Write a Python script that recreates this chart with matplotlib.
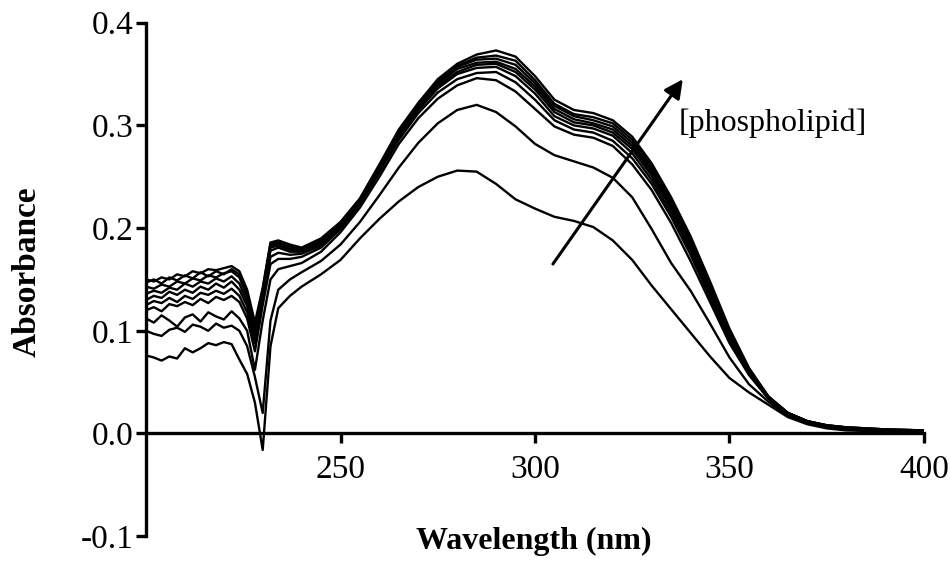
"""Absorbance spectra of the titration series (phospholipid added)."""

import matplotlib

matplotlib.use("Agg")
import matplotlib.pyplot as plt

plt.rcParams["font.family"] = ["Liberation Serif", "DejaVu Serif"]
plt.rcParams["axes.unicode_minus"] = False

# wavelength grid (nm) shared by every spectrum
WAVELENGTH = [200, 202, 204, 206, 208, 210, 212, 214, 216, 218, 220, 222, 224,
              226, 228, 230, 232, 234, 237, 240,
              245, 250, 255, 260, 265, 270, 275, 280, 285, 290, 295, 300, 305,
              310, 315, 320, 325, 330, 335, 340, 345, 350, 355, 360, 365, 370,
              375, 380, 390, 400]

# spectra, lowest to highest phospholipid concentration
ABS_1 = [0.076, 0.074, 0.071, 0.075, 0.073, 0.083, 0.079, 0.083, 0.088, 0.086, 0.089, 0.087, 0.072,
         0.058, 0.030, -0.016, 0.085, 0.122, 0.134, 0.143,
         0.155, 0.169, 0.190, 0.209, 0.226, 0.240, 0.250, 0.256, 0.255, 0.243, 0.228, 0.219, 0.211,
         0.207, 0.201, 0.188, 0.169, 0.144, 0.121, 0.098, 0.075, 0.054, 0.040, 0.028, 0.016, 0.009,
         0.005, 0.003, 0.002, 0.001]
ABS_2 = [0.100, 0.097, 0.095, 0.101, 0.103, 0.099, 0.106, 0.104, 0.100, 0.107, 0.103, 0.105, 0.100,
         0.085, 0.055, 0.020, 0.110, 0.140, 0.150, 0.157,
         0.168, 0.184, 0.206, 0.232, 0.259, 0.283, 0.302, 0.315, 0.320, 0.313, 0.299, 0.282, 0.271,
         0.265, 0.259, 0.249, 0.230, 0.199, 0.166, 0.139, 0.107, 0.074, 0.048, 0.031, 0.017, 0.010,
         0.006, 0.004, 0.002, 0.001]
ABS_3 = [0.112, 0.108, 0.115, 0.110, 0.104, 0.113, 0.116, 0.109, 0.118, 0.114, 0.111, 0.119, 0.112,
         0.100, 0.062, 0.110, 0.150, 0.160, 0.163, 0.166,
         0.177, 0.196, 0.220, 0.250, 0.282, 0.307, 0.326, 0.339, 0.346, 0.344, 0.333, 0.316, 0.299,
         0.291, 0.288, 0.280, 0.262, 0.237, 0.205, 0.168, 0.128, 0.088, 0.057, 0.034, 0.019, 0.011,
         0.007, 0.005, 0.003, 0.002]
ABS_4 = [0.120, 0.123, 0.119, 0.126, 0.124, 0.128, 0.125, 0.131, 0.127, 0.133, 0.130, 0.134, 0.128,
         0.112, 0.080, 0.125, 0.165, 0.170, 0.170, 0.172,
         0.181, 0.199, 0.223, 0.254, 0.286, 0.312, 0.332, 0.345, 0.351, 0.352, 0.342, 0.325, 0.305,
         0.296, 0.293, 0.285, 0.268, 0.243, 0.211, 0.174, 0.132, 0.091, 0.058, 0.034, 0.019, 0.011,
         0.007, 0.005, 0.003, 0.002]
ABS_5 = [0.125, 0.129, 0.127, 0.132, 0.128, 0.134, 0.131, 0.137, 0.135, 0.139, 0.136, 0.141, 0.134,
         0.118, 0.088, 0.130, 0.172, 0.176, 0.174, 0.175,
         0.183, 0.201, 0.225, 0.256, 0.289, 0.315, 0.336, 0.350, 0.356, 0.357, 0.348, 0.331, 0.309,
         0.300, 0.297, 0.290, 0.273, 0.247, 0.215, 0.178, 0.136, 0.094, 0.059, 0.035, 0.019, 0.011,
         0.007, 0.005, 0.003, 0.002]
ABS_6 = [0.130, 0.134, 0.132, 0.138, 0.135, 0.140, 0.137, 0.143, 0.140, 0.146, 0.142, 0.148, 0.140,
         0.124, 0.093, 0.135, 0.178, 0.181, 0.177, 0.177,
         0.185, 0.202, 0.226, 0.258, 0.291, 0.317, 0.338, 0.352, 0.359, 0.360, 0.352, 0.335, 0.313,
         0.303, 0.300, 0.293, 0.277, 0.251, 0.219, 0.181, 0.139, 0.096, 0.060, 0.035, 0.020, 0.012,
         0.007, 0.005, 0.003, 0.002]
ABS_7 = [0.136, 0.139, 0.137, 0.142, 0.140, 0.146, 0.143, 0.148, 0.146, 0.151, 0.148, 0.153, 0.146,
         0.128, 0.097, 0.137, 0.181, 0.183, 0.179, 0.178,
         0.186, 0.203, 0.227, 0.259, 0.293, 0.318, 0.340, 0.355, 0.361, 0.362, 0.355, 0.338, 0.316,
         0.306, 0.302, 0.296, 0.280, 0.254, 0.222, 0.184, 0.141, 0.098, 0.061, 0.035, 0.020, 0.012,
         0.007, 0.005, 0.003, 0.002]
ABS_8 = [0.143, 0.141, 0.145, 0.143, 0.148, 0.146, 0.151, 0.149, 0.154, 0.152, 0.156, 0.158, 0.152,
         0.133, 0.100, 0.138, 0.183, 0.185, 0.180, 0.179,
         0.187, 0.204, 0.228, 0.260, 0.294, 0.320, 0.342, 0.357, 0.364, 0.365, 0.359, 0.341, 0.319,
         0.309, 0.305, 0.299, 0.283, 0.257, 0.225, 0.187, 0.143, 0.099, 0.062, 0.036, 0.020, 0.012,
         0.008, 0.006, 0.004, 0.003]
ABS_9 = [0.147, 0.150, 0.146, 0.152, 0.149, 0.154, 0.151, 0.157, 0.153, 0.158, 0.155, 0.160, 0.155,
         0.137, 0.104, 0.140, 0.185, 0.186, 0.182, 0.180,
         0.188, 0.205, 0.228, 0.261, 0.295, 0.321, 0.343, 0.358, 0.366, 0.368, 0.363, 0.344, 0.321,
         0.311, 0.308, 0.302, 0.286, 0.260, 0.227, 0.189, 0.145, 0.100, 0.063, 0.036, 0.020, 0.012,
         0.008, 0.006, 0.004, 0.003]
ABS_10 = [0.150, 0.148, 0.152, 0.150, 0.155, 0.153, 0.158, 0.156, 0.160, 0.159, 0.161, 0.163, 0.158,
          0.140, 0.108, 0.142, 0.186, 0.188, 0.184, 0.181,
          0.190, 0.206, 0.229, 0.262, 0.296, 0.322, 0.345, 0.360, 0.369, 0.373, 0.367, 0.348, 0.325,
          0.315, 0.312, 0.305, 0.289, 0.263, 0.230, 0.192, 0.148, 0.102, 0.064, 0.036, 0.020, 0.012,
          0.008, 0.006, 0.004, 0.003]

SPECTRA = [ABS_1, ABS_2, ABS_3, ABS_4, ABS_5, ABS_6, ABS_7, ABS_8, ABS_9, ABS_10]

X_TICKS = [250, 300, 350, 400]
Y_TICKS = [-0.1, 0.0, 0.1, 0.2, 0.3, 0.4]
Y_TICK_LABELS = ["-0.1", "0.0", "0.1", "0.2", "0.3", "0.4"]


def main() -> None:
    fig = plt.figure(figsize=(9.5, 5.65), dpi=100)
    ax = fig.add_axes([0.1537, 0.051, 0.8189, 0.9088])

    for spectrum in SPECTRA:
        ax.plot(WAVELENGTH, spectrum, color="black", lw=1.7, solid_joinstyle="round")

    ax.set_xlim(200, 400)
    ax.set_ylim(-0.1, 0.4)

    for side in ("top", "right"):
        ax.spines[side].set_visible(False)
    ax.spines["bottom"].set_position(("data", 0))
    ax.spines["bottom"].set_bounds(200, 400)
    ax.spines["left"].set_bounds(-0.1, 0.4)
    for side in ("bottom", "left"):
        ax.spines[side].set_linewidth(2.4)

    ax.set_xticks(X_TICKS)
    ax.set_yticks(Y_TICKS)
    ax.set_yticklabels(Y_TICK_LABELS)
    ax.tick_params(axis="both", direction="out", length=7, width=2.4,
                   labelsize=24, pad=2)
    ax.tick_params(axis="x", pad=8)

    fig.text(27 / 950, 1 - 272 / 565, "Absorbance", rotation=90,
             ha="center", va="center", fontsize=24, fontweight="bold")
    fig.text(534 / 950, 1 - 541 / 565, "Wavelength (nm)",
             ha="center", va="center", fontsize=23, fontweight="bold")

    ax.annotate("", xy=(338.0, 0.345), xytext=(304.6, 0.165),
                arrowprops=dict(arrowstyle="-|>", color="black", lw=2.2,
                                mutation_scale=28, shrinkA=0, shrinkB=0))
    ax.text(336.8, 0.302, "[phospholipid]", ha="left", va="center", fontsize=23)

    fig.savefig("out.png", dpi=100)
    plt.close(fig)


if __name__ == "__main__":
    main()
